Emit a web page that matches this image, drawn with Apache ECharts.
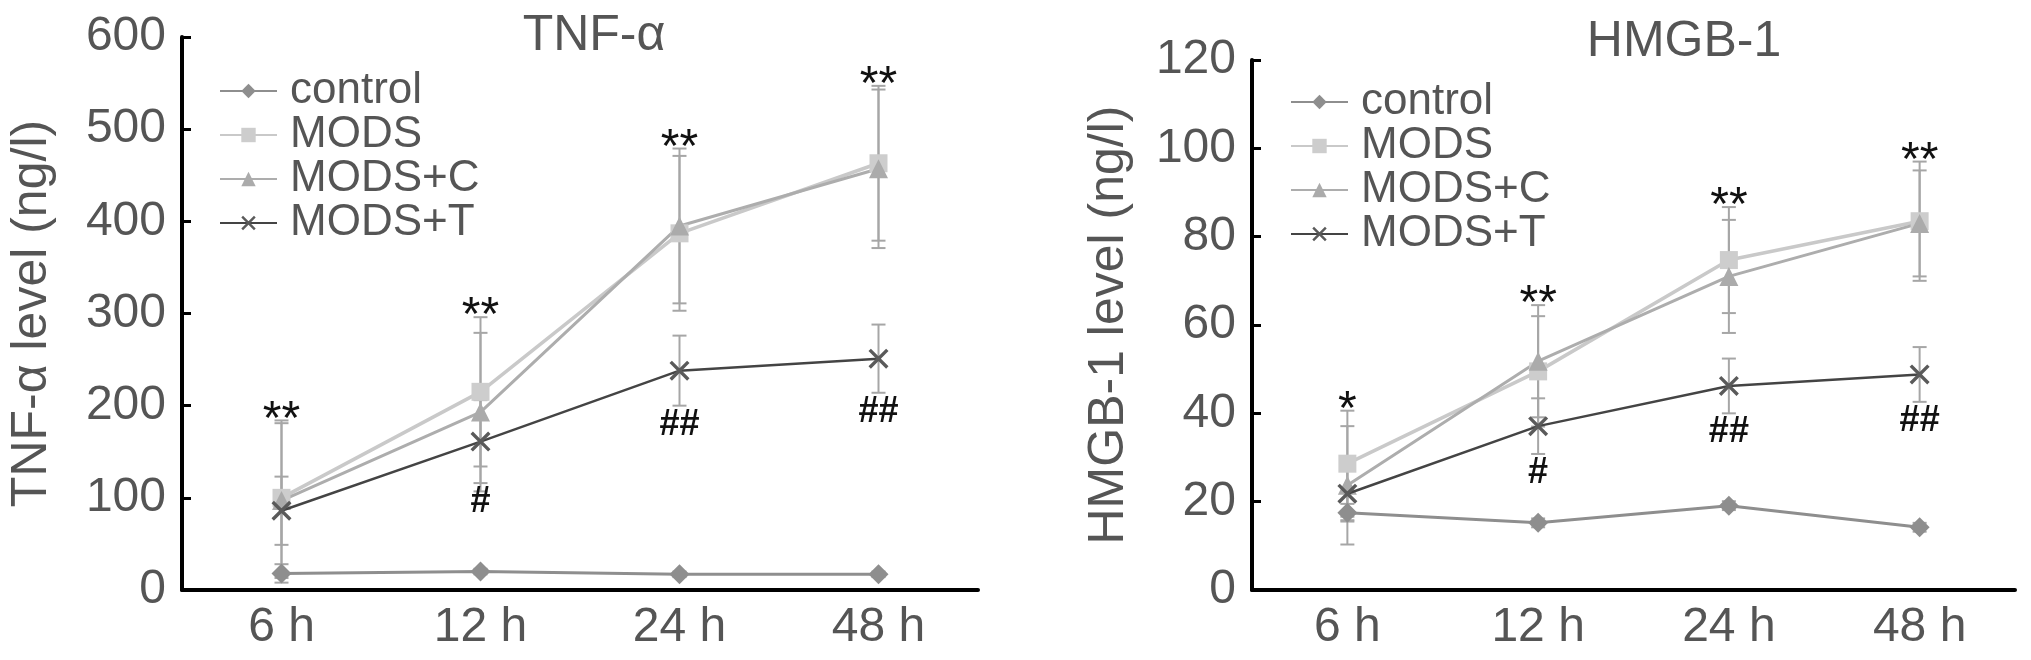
<!DOCTYPE html>
<html><head><meta charset="utf-8">
<script src="https://cdn.jsdelivr.net/npm/echarts@6/dist/echarts.min.js"></script>
<style>html,body{margin:0;padding:0;background:#fff}#c{width:2031px;height:660px}</style>
</head><body><div id="c"></div>
<script>
// ---------- DATA ----------
const categories = ['6 h', '12 h', '24 h', '48 h'];
const seriesNames = ['control', 'MODS', 'MODS+C', 'MODS+T'];

// TNF-α (ng/l)
const tnfControl = [18, 20, 17, 17];
const tnfMODS    = [100, 215, 387, 463];
const tnfMODSC   = [97, 193, 395, 457];
const tnfMODST   = [86, 161, 238, 251];
const tnfControlSD = [10, 3, 3, 3];
const tnfMODSSD    = [84, 81, 84, 84];
const tnfMODSCSD   = [84, 86, 84, 86];
const tnfMODSTSD   = [37, 45, 38, 37];
const tnfTopMarks    = ['**', '**', '**', '**'];
const tnfBottomMarks = ['', '#', '##', '##'];
const tnfAxisMax = 600, tnfAxisStep = 100;

// HMGB-1 (ng/l)
const hmgbControl = [17.5, 15.2, 19.1, 14.2];
const hmgbMODS    = [28.6, 49.5, 74.7, 83.5];
const hmgbMODSC   = [23.7, 51.8, 71.0, 83.0];
const hmgbMODST   = [21.8, 37.1, 46.2, 48.8];
const hmgbControlSD = [2, 1, 1, 1];
const hmgbMODSSD    = [12, 12.5, 12, 13.5];
const hmgbMODSCSD   = [13.4, 12.7, 12.8, 12];
const hmgbMODSTSD   = [6, 6.3, 6.2, 6.2];
const hmgbTopMarks    = ['*', '**', '**', '**'];
const hmgbBottomMarks = ['', '#', '##', '##'];
const hmgbAxisMax = 120, hmgbAxisStep = 20;

// ---------- STYLE ----------
const FONT = 'Liberation Sans, Arial, sans-serif';
const TXT = '#555555';
const X_PATH = 'path://M0,1.2L1.2,0L10,8.8L8.8,10Z M8.8,0L10,1.2L1.2,10L0,8.8Z';
const styles = [
  {symbol: 'diamond', size: 20, color: '#8e8e8e', line: '#8e8e8e', width: 3},
  {symbol: 'rect', size: 18, color: '#cdcdcd', line: '#c9c9c9', width: 3.5},
  {symbol: 'triangle', size: 19, color: '#ababab', line: '#adadad', width: 3},
  {symbol: X_PATH, size: 20, color: '#5a5a5a', line: '#444444', width: 2.5}
];

function errRender(params, api) {
  const x = api.value(0), lo = api.value(1), hi = api.value(2);
  const p1 = api.coord([x, hi]), p2 = api.coord([x, lo]);
  const w = 7;
  const st = {stroke: '#a6a6a6', lineWidth: 2};
  return {type: 'group', children: [
    {type: 'line', shape: {x1: p1[0], y1: p1[1], x2: p2[0], y2: p2[1]}, style: st},
    {type: 'line', shape: {x1: p1[0] - w, y1: p1[1], x2: p1[0] + w, y2: p1[1]}, style: st},
    {type: 'line', shape: {x1: p2[0] - w, y1: p2[1], x2: p2[0] + w, y2: p2[1]}, style: st}
  ]};
}
function markRender(shiftY, size, bold) {
  return function (params, api) {
    const p = api.coord([api.value(0), api.value(1)]);
    const t = params.context && 0;
    return {type: 'text', x: p[0], y: p[1] + shiftY, style: {
      text: api.value(2), fill: '#111', align: 'center', verticalAlign: 'middle',
      font: (bold ? 'bold ' : '') + size + 'px ' + FONT
    }};
  };
}

function buildPanel(idx, vals, sds, topMarks, bottomMarks) {
  const out = [];
  vals.forEach((v, k) => {
    const s = styles[k];
    out.push({
      name: seriesNames[k], type: 'line', xAxisIndex: idx, yAxisIndex: idx,
      data: v, symbol: s.symbol, symbolSize: s.size, showAllSymbol: true,
      itemStyle: {color: s.color},
      lineStyle: {color: s.line, width: s.width},
      z: 5 + (k === 3 ? 1 : 0), animation: false
    });
  });
  const err = [];
  vals.forEach((v, k) => v.forEach((y, i) => err.push([i, y - sds[k][i], y + sds[k][i]])));
  out.push({type: 'custom', xAxisIndex: idx, yAxisIndex: idx, data: err,
    renderItem: errRender, encode: {x: 0, y: [1, 2]}, z: 3, silent: true, animation: false});
  const tops = [], bots = [];
  categories.forEach((c, i) => {
    const up = Math.max(vals[1][i] + sds[1][i], vals[2][i] + sds[2][i]);
    tops.push([i, up, topMarks[i]]);
    if (bottomMarks[i]) bots.push([i, vals[3][i] - sds[3][i], bottomMarks[i]]);
  });
  out.push({type: 'custom', xAxisIndex: idx, yAxisIndex: idx, data: tops,
    renderItem: markRender(0, 48, false), encode: {x: 0, y: 1}, z: 10, silent: true, animation: false});
  out.push({type: 'custom', xAxisIndex: idx, yAxisIndex: idx, data: bots,
    renderItem: markRender(19, 36, true), encode: {x: 0, y: 1}, z: 10, silent: true, animation: false});
  return out;
}

const axisLineStyle = {color: '#000', width: 4};
function xAx(gi) {
  return {type: 'category', gridIndex: gi, data: categories, boundaryGap: true,
    axisLine: {lineStyle: axisLineStyle},
    axisTick: {inside: true, length: 9, lineStyle: {color: '#000', width: 3}},
    axisLabel: {fontSize: 48, color: TXT, fontFamily: FONT, margin: 14},
    splitLine: {show: false}};
}
function yAx(gi, max, step, name, gap) {
  return {type: 'value', gridIndex: gi, min: 0, max: max, interval: step,
    name: name, nameLocation: 'middle', nameGap: gap, nameRotate: 90,
    nameTextStyle: {fontSize: 50, color: TXT, fontFamily: FONT},
    axisLine: {show: true, lineStyle: axisLineStyle},
    axisTick: {show: true, inside: true, length: 9, lineStyle: {color: '#000', width: 3}},
    axisLabel: {fontSize: 48, color: TXT, fontFamily: FONT, margin: 16},
    splitLine: {show: false}};
}
function legendAt(left, top) {
  return {orient: 'vertical', left: left, top: top, itemWidth: 57, itemHeight: 18, itemGap: 0,
    data: seriesNames, selectedMode: false,
    textStyle: {fontSize: 44, color: TXT, fontFamily: FONT, lineHeight: 38, padding: [0, 0, 0, 8]}};
}

const option = {
  backgroundColor: '#fff',
  animation: false,
  title: [
    {text: 'TNF-α', left: 589, top: 6, textAlign: 'center',
      textStyle: {fontSize: 50, fontWeight: 'normal', color: TXT, fontFamily: FONT}},
    {text: 'HMGB-1', left: 1679, top: 12, textAlign: 'center',
      textStyle: {fontSize: 50, fontWeight: 'normal', color: TXT, fontFamily: FONT}}
  ],
  legend: [legendAt(214, 64), legendAt(1285, 75)],
  grid: [
    {left: 182, top: 37, width: 796, height: 553},
    {left: 1252, top: 60, width: 763, height: 530}
  ],
  xAxis: [xAx(0), xAx(1)],
  yAxis: [
    yAx(0, tnfAxisMax, tnfAxisStep, 'TNF-α level (ng/l)', 125),
    yAx(1, hmgbAxisMax, hmgbAxisStep, 'HMGB-1 level (ng/l)', 118)
  ],
  series: [].concat(
    buildPanel(0, [tnfControl, tnfMODS, tnfMODSC, tnfMODST],
      [tnfControlSD, tnfMODSSD, tnfMODSCSD, tnfMODSTSD], tnfTopMarks, tnfBottomMarks),
    buildPanel(1, [hmgbControl, hmgbMODS, hmgbMODSC, hmgbMODST],
      [hmgbControlSD, hmgbMODSSD, hmgbMODSCSD, hmgbMODSTSD], hmgbTopMarks, hmgbBottomMarks)
  )
};
const chart = echarts.init(document.getElementById('c'), null, {renderer: 'canvas'});
chart.setOption(option);
</script></body></html>
